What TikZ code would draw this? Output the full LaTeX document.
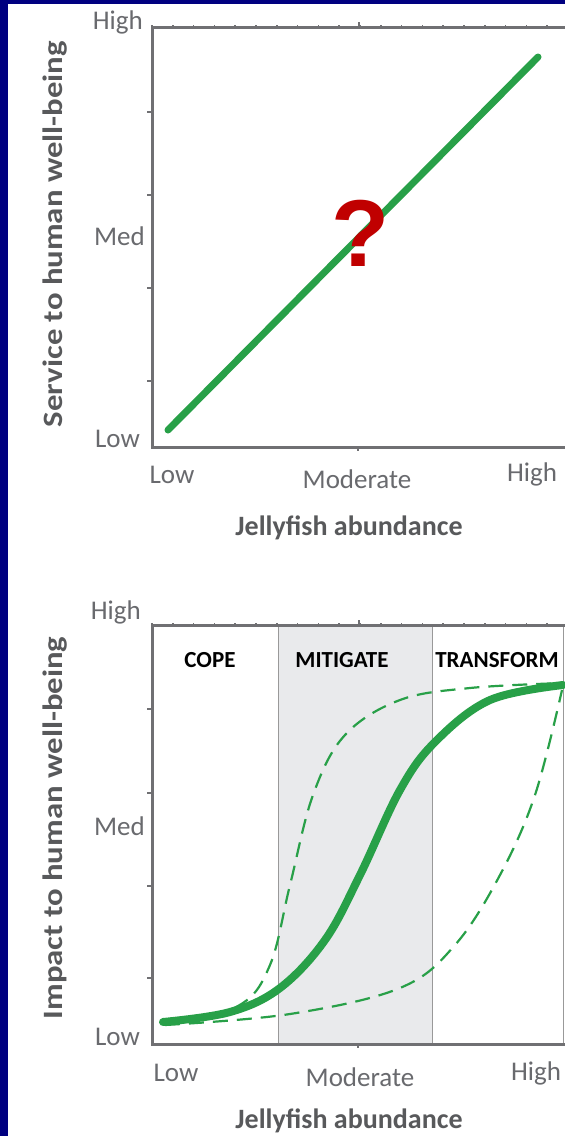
\documentclass[tikz,border=0pt]{standalone}
\usepackage{fontspec}
\setmainfont{Carlito}
\newfontfamily\qfont{Liberation Sans}
\usetikzlibrary{positioning,calc}
\usepackage{xcolor}

\definecolor{navyframe}{RGB}{0,0,128}
\definecolor{axisgray}{RGB}{112,112,115}
\definecolor{labelgray}{RGB}{105,106,110}
\definecolor{titlegray}{RGB}{88,89,91}
\definecolor{curvegreen}{RGB}{40,160,72}
\definecolor{qred}{RGB}{192,0,0}
\definecolor{zoneshade}{RGB}{233,234,236}

\tikzset{
	axis/.style={axisgray, line width=3pt},
	tickmark/.style={axisgray, line width=1.6pt},
	ticklabel/.style={labelgray, inner sep=0pt, font=\fontsize{27}{27}\selectfont},
	axistitle/.style={titlegray, inner sep=0pt, font=\bfseries\fontsize{28}{28}\selectfont},
	zonelabel/.style={black, inner sep=0pt, font=\bfseries\fontsize{23}{23}\selectfont},
	zoneline/.style={gray!80, line width=1pt},
	trend/.style={curvegreen, line cap=round},
	scenario/.style={curvegreen, line width=2.2pt, dash pattern=on 15pt off 9pt},
}

\begin{document}
\begin{tikzpicture}[x=1pt,y=-1pt]
	\useasboundingbox (0,0) rectangle (565,1136);
	\fill[navyframe] (0,0) rectangle (565,1136);
	\fill[white] (7.5,4) rectangle (565,1136);

	% upper panel: service
	\coordinate (sTop) at (152,27);
	\coordinate (sOrig) at (152,447);
	\coordinate (sEnd) at (565,447);
	\coordinate (sTopEnd) at (565,27);
	\foreach \x in {0,...,19} \draw[tickmark] (152+20.8*\x,27) -- ++(0,-2);
	\draw[tickmark] (359,27) -- ++(0,-5);
	\foreach \y in {112,195,288,381} \draw[tickmark] (152,\y) -- ++(-5,0);
	\draw[tickmark] (358,447) -- ++(0,4);
	\draw[axis] (sTopEnd) -- (sTop) -- (sOrig) -- (sEnd);
	\draw[trend, line width=7pt] (168,430) -- (538,57);
	\node[qred, inner sep=0pt, font=\qfont\bfseries\fontsize{95}{95}\selectfont] (qmark) at (361,233) {?};

	\node[ticklabel, anchor=east] (sHighY) at (143,22) {High};
	\node[ticklabel, anchor=east] (sMedY) at (145,236) {Med};
	\node[ticklabel, anchor=east] (sLowY) at (140,439) {Low};
	\node[ticklabel] (sLowX) at (172,475) {Low};
	\node[ticklabel] (sModX) at (357,479) {Moderate};
	\node[ticklabel] (sHighX) at (532,474) {High};
	\node[axistitle] (sXtitle) at (349,528) {Jellyfish abundance};
	\node[axistitle, rotate=90] (sYtitle) at (55,234) {\scalebox{1.17}[1]{Service to human well-being}};

	% lower panel: impact
	\coordinate (iTop) at (152,625);
	\coordinate (iOrig) at (152,1044);
	\coordinate (iEnd) at (565,1044);
	\coordinate (iTopEnd) at (565,625);
	\fill[zoneshade] (278,625) rectangle (432,1044);
	\draw[zoneline] (278,625) -- (278,1044);
	\draw[zoneline] (432,625) -- (432,1044);
	\draw[zoneline] (563,625) -- (563,1044);
	\foreach \x in {0,...,19} \draw[tickmark] (152+20.8*\x,625) -- ++(0,-2);
	\draw[tickmark] (359,625) -- ++(0,-5);
	\foreach \y in {709,793,886,978} \draw[tickmark] (152,\y) -- ++(-5,0);
	\draw[tickmark] (358,1044) -- ++(0,4);
	\draw[axis] (iTopEnd) -- (iTop) -- (iOrig) -- (iEnd);

	\node[zonelabel] (cope) at (210,660) {COPE};
	\node[zonelabel] (mitigate) at (342,660) {MITIGATE};
	\node[zonelabel] (transform) at (497,660) {TRANSFORM};

	\draw[scenario] plot[smooth, tension=0.6] coordinates {(165,1024) (238,1006) (270,965) (290,885) (313,795) (345,735) (400,700) (470,688) (563,683)};
	\draw[scenario] plot[smooth, tension=0.6] coordinates {(165,1025) (290,1014) (400,988) (455,945) (500,875) (535,795) (562,690)};
	\draw[trend, line width=8pt] plot[smooth, tension=0.6] coordinates {(163,1022) (230,1012) (280,988) (325,940) (360,875) (400,790) (435,742) (490,700) (563,685)};

	\node[ticklabel, anchor=east] (iHighY) at (141,612) {High};
	\node[ticklabel, anchor=east] (iMedY) at (145,826) {Med};
	\node[ticklabel, anchor=east] (iLowY) at (140,1037) {Low};
	\node[ticklabel] (iLowX) at (176,1073) {Low};
	\node[ticklabel] (iModX) at (360,1077) {Moderate};
	\node[ticklabel] (iHighX) at (536,1073) {High};
	\node[axistitle] (iXtitle) at (349,1121) {Jellyfish abundance};
	\node[axistitle, rotate=90] (iYtitle) at (55,828) {\scalebox{1.17}[1]{Impact to human well-being}};
\end{tikzpicture}
\end{document}
